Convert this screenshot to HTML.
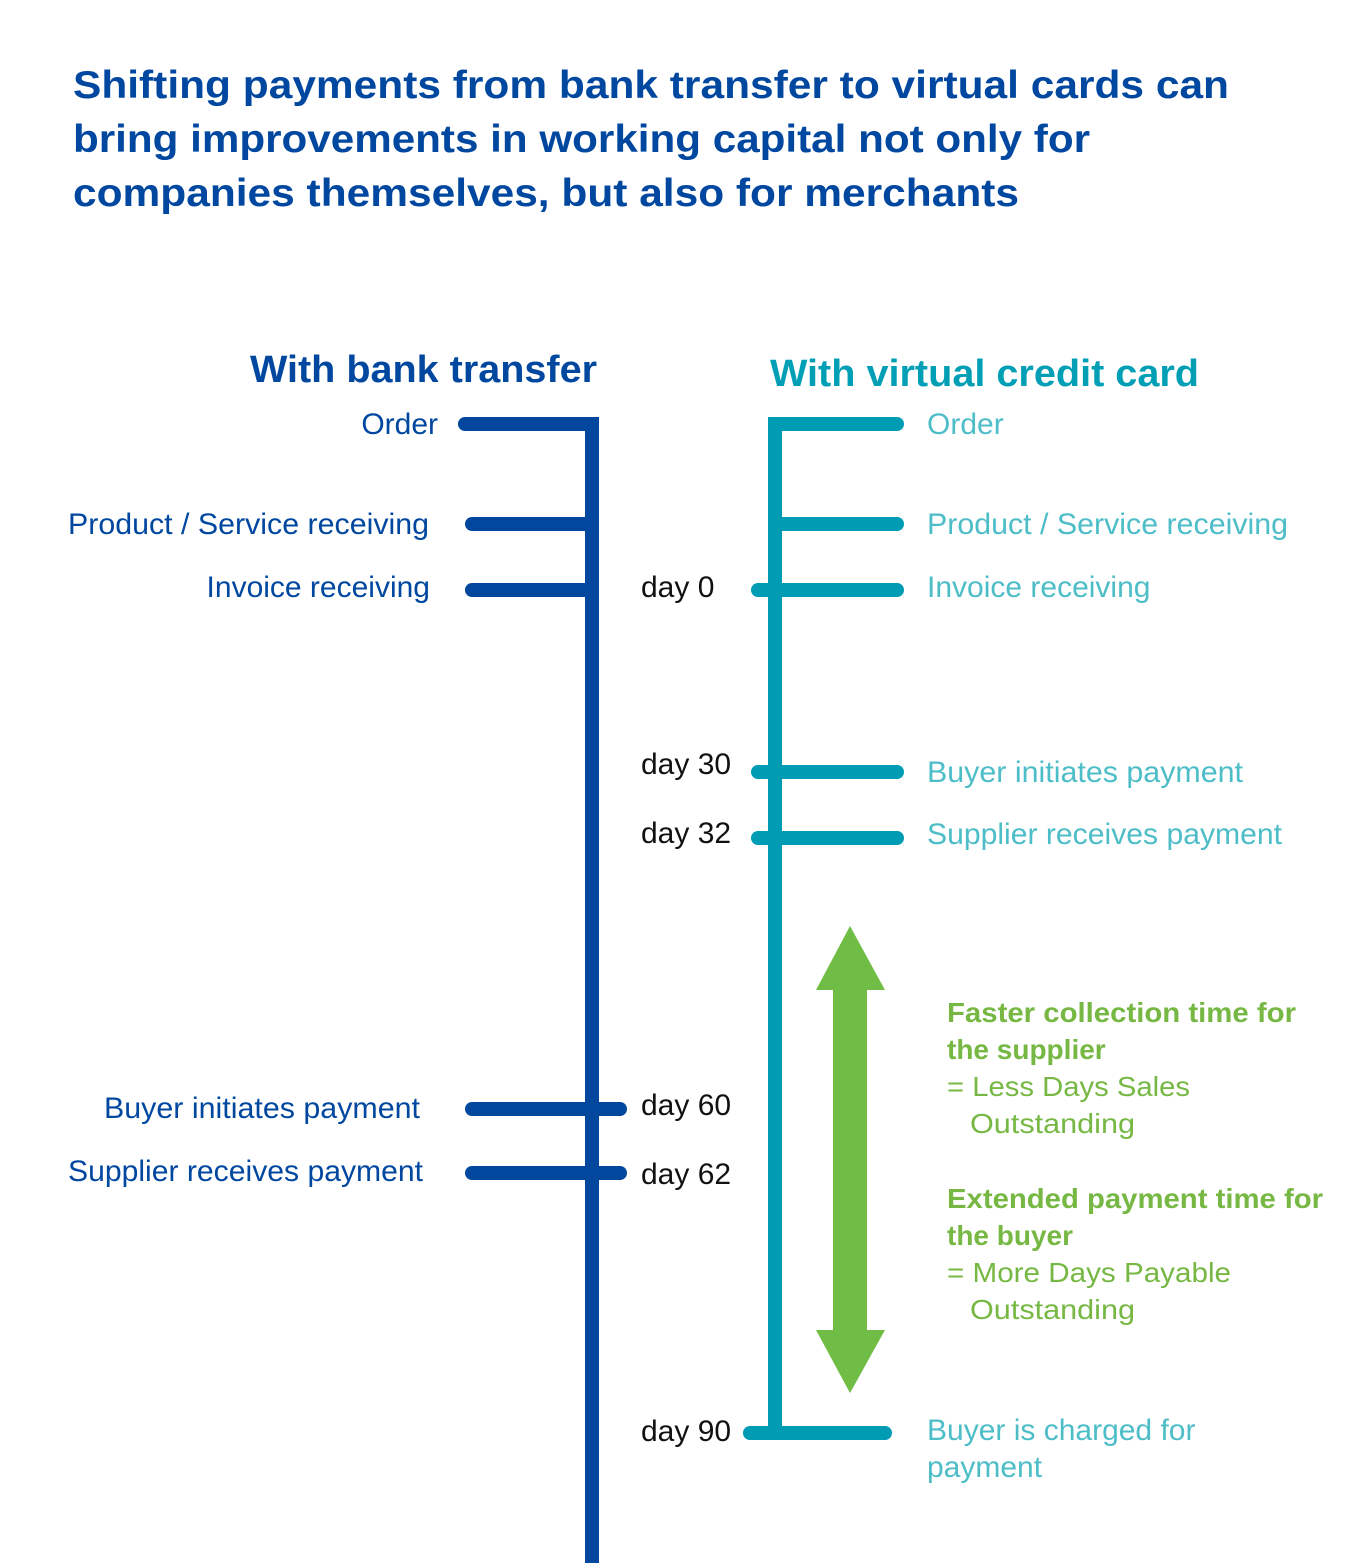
<!DOCTYPE html>
<html><head><meta charset="utf-8"><style>
body{margin:0;background:#fff;}
svg text{font-family:"Liberation Sans",sans-serif;}
</style></head><body>
<svg width="1357" height="1563" viewBox="0 0 1357 1563" xmlns="http://www.w3.org/2000/svg">
<g font-weight="bold" font-size="39" fill="#0047a0">
<text x="73" y="98" textLength="1156" lengthAdjust="spacingAndGlyphs">Shifting payments from bank transfer to virtual cards can</text>
<text x="73" y="152" textLength="1017" lengthAdjust="spacingAndGlyphs">bring improvements in working capital not only for</text>
<text x="73" y="206" textLength="946" lengthAdjust="spacingAndGlyphs">companies themselves, but also for merchants</text>
</g>
<text x="250" y="382" font-weight="bold" font-size="38" fill="#0047a0" textLength="347" lengthAdjust="spacingAndGlyphs">With bank transfer</text>
<text x="770" y="386" font-weight="bold" font-size="38" fill="#009fb6" textLength="429" lengthAdjust="spacingAndGlyphs">With virtual credit card</text>
<g stroke="#00479d" stroke-width="14" stroke-linecap="round" fill="none">
<line x1="465" y1="424" x2="592" y2="424"/>
<line x1="472" y1="524" x2="592" y2="524"/>
<line x1="472" y1="590" x2="592" y2="590"/>
<line x1="472" y1="1109" x2="620" y2="1109"/>
<line x1="472" y1="1173" x2="620" y2="1173"/>
</g>
<rect x="585" y="417" width="14" height="1146" fill="#00479d"/>
<g stroke="#009cb4" stroke-width="14" stroke-linecap="round" fill="none">
<line x1="775" y1="424" x2="897" y2="424"/>
<line x1="775" y1="524" x2="897" y2="524"/>
<line x1="758" y1="590" x2="897" y2="590"/>
<line x1="758" y1="772" x2="897" y2="772"/>
<line x1="758" y1="838" x2="897" y2="838"/>
<line x1="750" y1="1433" x2="885" y2="1433"/>
</g>
<rect x="768" y="417" width="14" height="1016" fill="#009cb4"/>
<polygon points="850,926 885,990 867,990 867,1330 885,1330 850,1393 816,1330 833,1330 833,990 816,990" fill="#6fbd44"/>
<g font-size="30" fill="#0047a0" text-anchor="end">
<text x="438" y="434">Order</text>
<text x="429" y="534" textLength="361" lengthAdjust="spacingAndGlyphs">Product / Service receiving</text>
<text x="430" y="597">Invoice receiving</text>
<text x="420" y="1118" textLength="316" lengthAdjust="spacingAndGlyphs">Buyer initiates payment</text>
<text x="423" y="1181" textLength="355" lengthAdjust="spacingAndGlyphs">Supplier receives payment</text>
</g>
<g font-size="30" fill="#111">
<text x="641" y="597">day 0</text>
<text x="641" y="774">day 30</text>
<text x="641" y="843">day 32</text>
<text x="641" y="1115">day 60</text>
<text x="641" y="1184">day 62</text>
<text x="641" y="1441">day 90</text>
</g>
<g font-size="30" fill="#4dbdc8">
<text x="927" y="434">Order</text>
<text x="927" y="534" textLength="361" lengthAdjust="spacingAndGlyphs">Product / Service receiving</text>
<text x="927" y="597">Invoice receiving</text>
<text x="927" y="782" textLength="316" lengthAdjust="spacingAndGlyphs">Buyer initiates payment</text>
<text x="927" y="844" textLength="355" lengthAdjust="spacingAndGlyphs">Supplier receives payment</text>
<text x="927" y="1440">Buyer is charged for</text>
<text x="927" y="1477">payment</text>
</g>
<g font-size="28" fill="#76b843">
<text x="947" y="1022" font-weight="bold" textLength="349" lengthAdjust="spacingAndGlyphs">Faster collection time for</text>
<text x="947" y="1059" font-weight="bold">the supplier</text>
<text x="947" y="1096" textLength="243" lengthAdjust="spacingAndGlyphs">= Less Days Sales</text>
<text x="970" y="1133" textLength="165" lengthAdjust="spacingAndGlyphs">Outstanding</text>
<text x="947" y="1208" font-weight="bold" textLength="376" lengthAdjust="spacingAndGlyphs">Extended payment time for</text>
<text x="947" y="1245" font-weight="bold">the buyer</text>
<text x="947" y="1282" textLength="284" lengthAdjust="spacingAndGlyphs">= More Days Payable</text>
<text x="970" y="1319" textLength="165" lengthAdjust="spacingAndGlyphs">Outstanding</text>
</g>
</svg>
</body></html>
